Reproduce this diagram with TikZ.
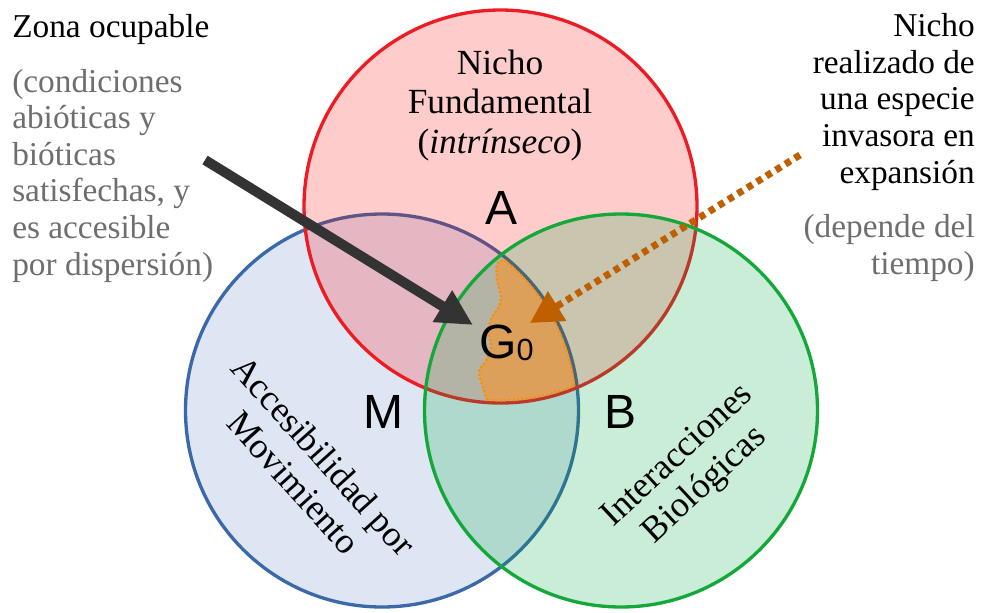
\documentclass[tikz,border=0pt]{standalone}
\usepackage{fontspec}
\setmainfont{Liberation Serif}
\setsansfont{Liberation Sans}
\usepackage{tikz}
\usetikzlibrary{arrows.meta}

\definecolor{rojoNicho}{RGB}{237,28,36}
\definecolor{azulM}{RGB}{58,104,168}
\definecolor{azulRelleno}{RGB}{70,110,190}
\definecolor{verdeB}{RGB}{20,168,58}
\definecolor{verdeRelleno}{RGB}{0,170,60}
\definecolor{naranjaG}{RGB}{220,160,90}
\definecolor{naranjaBorde}{RGB}{255,140,0}
\definecolor{cafeFlecha}{RGB}{190,96,0}
\definecolor{grisTexto}{RGB}{110,110,110}
\definecolor{grisFlecha}{RGB}{51,51,51}

\begin{document}
\begin{tikzpicture}[
    x=0.75pt, y=-0.75pt,
    circulo/.style={line width=2.5pt, fill opacity=0.2},
    texto/.style={inner sep=0pt, font=\fontsize{25}{27.4}\selectfont},
    nota/.style={texto, text=grisTexto},
    letra/.style={inner sep=0pt, font=\sffamily\fontsize{36}{36}\selectfont},
    girado/.style={inner sep=0pt, align=center, font=\fontsize{27}{30}\selectfont},
    flecha/.style={-{Triangle[length=27pt,width=26pt]}, line width=7.5pt, grisFlecha},
    punteada/.style={-{Triangle[length=24pt,width=25pt]}, line width=5.2pt, cafeFlecha, dash pattern=on 4.6pt off 3.8pt}
]
\useasboundingbox (0,0) rectangle (981,612);

% Circulos
\draw[circulo, draw=azulM, fill=azulRelleno, fill opacity=0.18] (382,410.5) circle[radius=196.5];
\draw[circulo, draw=rojoNicho, fill=red] (500.5,206.5) circle[radius=196.5];
\draw[circulo, draw=verdeB, fill=verdeRelleno, fill opacity=0.21] (621,410.5) circle[radius=196.5];

% Zona G0
\filldraw[fill=naranjaG, draw=naranjaBorde, line width=1.6pt, dash pattern=on 1.6pt off 1.6pt]
    (487,400) arc[start angle=94, end angle=67.6, radius=194]
    arc[start angle=-7.3, end angle=-51, radius=194]
    -- plot[smooth, tension=0.5] coordinates {(504.1,259.7) (497,264) (497,280) (501,297) (498,308) (492,317) (488,331) (491,348) (485,362) (479,371) (482,385) (487,400)}
    -- cycle;

% Textos (la base de un nodo de varias lineas es la ultima linea)
\node[texto, anchor=base west] (zona) at (12,37) {Zona ocupable};
\node[nota, anchor=base west, align=left] (condiciones) at (12,275) {(condiciones\\abióticas y\\bióticas\\satisfechas, y\\es accesible\\por dispersión)};
\node[texto, anchor=base east, align=right] (realizado) at (975,183) {Nicho\\realizado de\\una especie\\invasora en\\expansión};
\node[nota, anchor=base east, align=right] (tiempo) at (975,274) {(depende del\\tiempo)};
\node[texto, font=\fontsize{26.5}{29.5}\selectfont, anchor=base, align=center] (fundamental) at (500,153) {Nicho\\Fundamental\\(\textit{intrínseco})};
\node[girado, rotate=-48] (accesibilidad) at (309,469) {Accesibilidad por\\Movimiento};
\node[girado, rotate=43] (interacciones) at (692,471) {Interacciones\\Biológicas};

% Letras
\node[letra] (A) at (502,208) {A};
\node[letra] (M) at (383,412) {M};
\node[letra] (B) at (620,412) {B};
\node[letra, anchor=base west] (G0) at (479,358) {G{\fontsize{23}{23}\selectfont\raisebox{-1.5pt}{0}}};

% Flechas
\coordinate (colaZona) at (205,160);
\coordinate (puntaZona) at (473,325);
\coordinate (colaNicho) at (800,155);
\coordinate (puntaNicho) at (530,323);
\draw[flecha] (colaZona) -- (puntaZona);
\draw[punteada] (colaNicho) -- (puntaNicho);

\end{tikzpicture}
\end{document}
